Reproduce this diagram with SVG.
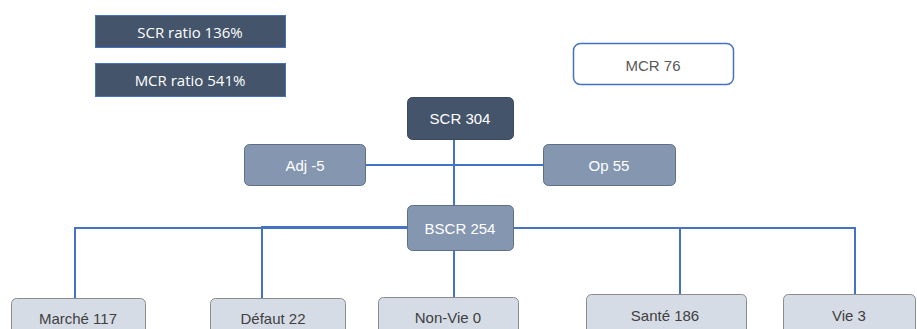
<svg xmlns="http://www.w3.org/2000/svg" width="917" height="329" viewBox="0 0 917 329">
<style>
text{font-family:"Liberation Sans",Arial,sans-serif;font-size:15px;text-anchor:middle;dominant-baseline:central}
.ratio{fill:#44546A;stroke:#4472C4;stroke-width:1}
.ratio-t{fill:#FFFFFF;font-family:"Open Sans","Liberation Sans",sans-serif;font-size:15px}
.dark{fill:#44546A;stroke:#3B4A5E;stroke-width:1}
.mid{fill:#8496B0;stroke:#5F6F86;stroke-width:1}
.light{fill:#D6DCE5;stroke:#8C8C8C;stroke-width:1}
.white{fill:#FFFFFF;stroke:#4472C4;stroke-width:1.5}
.wt{fill:#FFFFFF}
.gt{fill:#595959}
.bt{fill:#404040}
.conn{stroke:#4472C4;stroke-width:2;fill:none}
</style>
<g id="connectors">
<line class="conn" x1="454" y1="139" x2="454" y2="205"/>
<line class="conn" x1="365" y1="165" x2="543" y2="165"/>
<polyline class="conn" points="75,298 75,228 407,228"/>
<polyline class="conn" points="262,298 262,227 407,227"/>
<line class="conn" x1="454" y1="250" x2="454" y2="297"/>
<polyline class="conn" points="513,228 855,228 855,294"/>
<line class="conn" x1="680" y1="228" x2="680" y2="294"/>
</g>
<g id="scr-ratio"><rect class="ratio" x="95.5" y="15.5" width="190" height="32"/><text class="ratio-t" x="190" y="32">SCR ratio 136%</text></g>
<g id="mcr-ratio"><rect class="ratio" x="95.5" y="63.5" width="190" height="33"/><text class="ratio-t" x="190" y="80">MCR ratio 541%</text></g>
<g id="mcr"><rect class="white" x="573.5" y="43.5" width="160" height="41" rx="7"/><text class="gt" x="653" y="65">MCR 76</text></g>
<g id="scr"><rect class="dark" x="407.5" y="97.5" width="106" height="42" rx="5"/><text class="wt" x="460" y="118">SCR 304</text></g>
<g id="adj"><rect class="mid" x="244.5" y="144.5" width="121" height="41" rx="5"/><text class="wt" x="305" y="165">Adj -5</text></g>
<g id="op"><rect class="mid" x="543.5" y="144.5" width="132" height="41" rx="5"/><text class="wt" x="609" y="165">Op 55</text></g>
<g id="bscr"><rect class="mid" x="407.5" y="205.5" width="106" height="45" rx="5"/><text class="wt" x="460" y="228">BSCR 254</text></g>
<g id="marche"><rect class="light" x="11.5" y="298.5" width="134" height="44" rx="5"/><text class="bt" x="78" y="318">Marché 117</text></g>
<g id="defaut"><rect class="light" x="210.5" y="298.5" width="135" height="44" rx="5"/><text class="bt" x="273" y="318">Défaut 22</text></g>
<g id="nonvie"><rect class="light" x="378.5" y="297.5" width="140" height="44" rx="5"/><text class="bt" x="448" y="317">Non-Vie 0</text></g>
<g id="sante"><rect class="light" x="586.5" y="294.5" width="160" height="44" rx="5"/><text class="bt" x="665" y="315">Santé 186</text></g>
<g id="vie"><rect class="light" x="783.5" y="294.5" width="132" height="44" rx="5"/><text class="bt" x="849" y="315">Vie 3</text></g>
</svg>
